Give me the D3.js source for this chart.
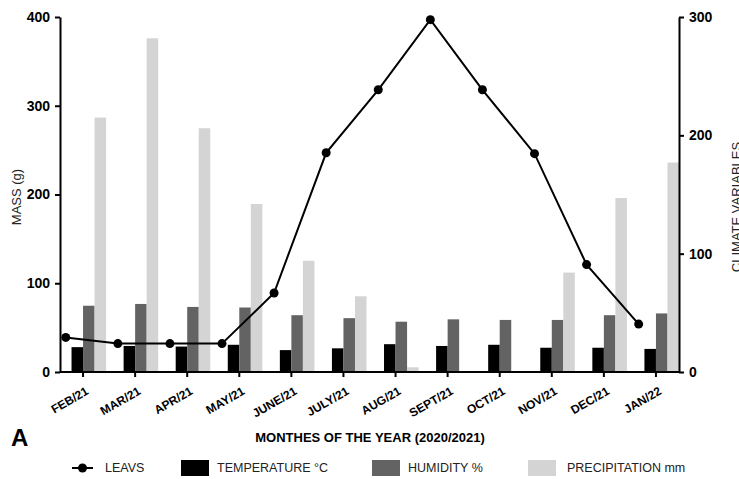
<!DOCTYPE html>
<html>
<head>
<meta charset="utf-8">
<script src="https://cdn.jsdelivr.net/npm/d3@7"></script>
<style>
  body { margin: 0; background: #fff; }
  svg { display: block; font-family: "Liberation Sans", Arial, sans-serif; }
</style>
</head>
<body>
<svg id="chart" width="739" height="479"></svg>
<script>
// data
const months = ["FEB/21", "MAR/21", "APR/21", "MAY/21", "JUNE/21", "JULY/21", "AUG/21",
                "SEPT/21", "OCT/21", "NOV/21", "DEC/21", "JAN/22"];
const leaves = [39, 32, 32, 32, 89, 247, 318, 397, 318, 246, 121, 54];          // MASS (g)
const temperature = [21, 22, 21.5, 23, 18.5, 20, 23.5, 22, 23, 20.5, 20.5, 19.5];
const humidity = [56, 57.5, 55, 54.5, 48, 45.5, 42.5, 44.5, 44, 44, 48, 49.5];
const precipitation = [215, 282, 206, 142, 94, 64, 4, 0, 0, 84, 147, 177];
const massTicks = [0, 100, 200, 300, 400];
const climateTicks = [0, 100, 200, 300];

const series = [
    { key: "temp", label: "TEMPERATURE °C", color: "#000000", values: temperature },
    { key: "hum", label: "HUMIDITY %", color: "#636363", values: humidity },
    { key: "prec", label: "PRECIPITATION mm", color: "#d4d4d4", values: precipitation }
];

const margin = { top: 17, left: 60, right: 60, bottom: 107 };
const width = 739, height = 479;
const svg = d3.select("#chart");

const x0 = d3.scaleBand()
    .domain(months)
    .range([margin.left, width - margin.right])
    .paddingInner(0.115)
    .paddingOuter(0);

// one slot per series in each group, the first slot is where the line point sits
const x1 = d3.scaleBand()
    .domain(["leaves", "temp", "hum", "prec"])
    .range([0, x0.bandwidth()]);

const yMass = d3.scaleLinear().domain([0, 400]).range([height - margin.bottom, margin.top]);
const yClim = d3.scaleLinear().domain([0, 300]).range([height - margin.bottom, margin.top]);

// bars
const bars = svg.append("g");
series.forEach(s => {
    bars.append("g")
        .selectAll("rect")
        .data(months.map((m, i) => ({ m, v: s.values[i] })))
        .join("rect")
        .attr("x", d => x0(d.m) + x1(s.key))
        .attr("width", x1.bandwidth())
        .attr("y", d => yClim(d.v))
        .attr("height", d => yClim(0) - yClim(d.v))
        .attr("fill", s.color);
});

// leaves line
const ptX = m => x0(m) + x1("leaves") + x1.bandwidth() / 2;
const line = d3.line()
    .x((d, i) => ptX(months[i]))
    .y(d => yMass(d));

svg.append("path")
    .datum(leaves)
    .attr("d", line)
    .attr("fill", "none")
    .attr("stroke", "#000")
    .attr("stroke-width", 2);

svg.append("g")
    .selectAll("circle")
    .data(leaves)
    .join("circle")
    .attr("cx", (d, i) => ptX(months[i]))
    .attr("cy", d => yMass(d))
    .attr("r", 4.5)
    .attr("fill", "#000");

// axes
const styleAxis = g => {
    g.attr("font-family", null);
    g.select(".domain").attr("stroke-width", 2);
    g.selectAll(".tick line").attr("stroke-width", 2);
    g.selectAll(".tick text").attr("font-weight", "bold").attr("fill", "#000");
};

svg.append("g")
    .attr("transform", `translate(${margin.left},0)`)
    .call(d3.axisLeft(yMass).tickValues(massTicks).tickSize(5).tickSizeOuter(0).tickPadding(5))
    .call(styleAxis)
    .call(g => g.selectAll(".tick text").attr("font-size", 14));

svg.append("g")
    .attr("transform", `translate(${width - margin.right},0)`)
    .call(d3.axisRight(yClim).tickValues(climateTicks).tickSize(5).tickSizeOuter(0).tickPadding(5))
    .call(styleAxis)
    .call(g => g.selectAll(".tick text").attr("font-size", 14));

svg.append("g")
    .attr("transform", `translate(0,${height - margin.bottom})`)
    .call(d3.axisBottom(x0).tickSize(5).tickSizeOuter(0))
    .call(styleAxis)
    .call(g => g.select(".domain").attr("d", `M${margin.left},0H${width - margin.right}`))
    .call(g => g.selectAll(".tick text")
        .attr("font-size", 12)
        .attr("text-anchor", "end")
        .attr("y", 0)
        .attr("dy", "0.72em")
        .attr("transform", "translate(2,14) rotate(-30)"));

// axis titles
svg.append("text")
    .attr("transform", `translate(21,197) rotate(-90)`)
    .attr("text-anchor", "middle")
    .attr("font-size", 13)
    .attr("fill", "#222")
    .text("MASS (g)");

svg.append("text")
    .attr("transform", `translate(741,207) rotate(-90)`)
    .attr("text-anchor", "middle")
    .attr("font-size", 13)
    .attr("fill", "#222")
    .text("CLIMATE VARIABLES");

svg.append("text")
    .attr("x", 370)
    .attr("y", 442)
    .attr("text-anchor", "middle")
    .attr("font-size", 13)
    .attr("font-weight", "bold")
    .text("MONTHES OF THE YEAR (2020/2021)");

svg.append("text")
    .attr("x", 11)
    .attr("y", 446)
    .attr("font-size", 24)
    .attr("font-weight", "bold")
    .text("A");

// legend
const legend = svg.append("g")
    .attr("font-size", 12.5)
    .attr("fill", "#222");

const lg = legend.append("g").attr("transform", "translate(72,468)");
lg.append("line").attr("x1", 0).attr("x2", 21).attr("stroke", "#000").attr("stroke-width", 2);
lg.append("circle").attr("cx", 10.5).attr("r", 4.5).attr("fill", "#000");
lg.append("text").attr("x", 33).attr("dy", "0.35em").text("LEAVS");

const legendX = [181, 372, 528];
series.forEach((s, i) => {
    const g = legend.append("g").attr("transform", `translate(${legendX[i]},468)`);
    g.append("rect").attr("y", -8).attr("width", 28).attr("height", 16).attr("fill", s.color);
    g.append("text").attr("x", i === 2 ? 39 : 36).attr("dy", "0.35em").text(s.label);
});
</script>
</body>
</html>
